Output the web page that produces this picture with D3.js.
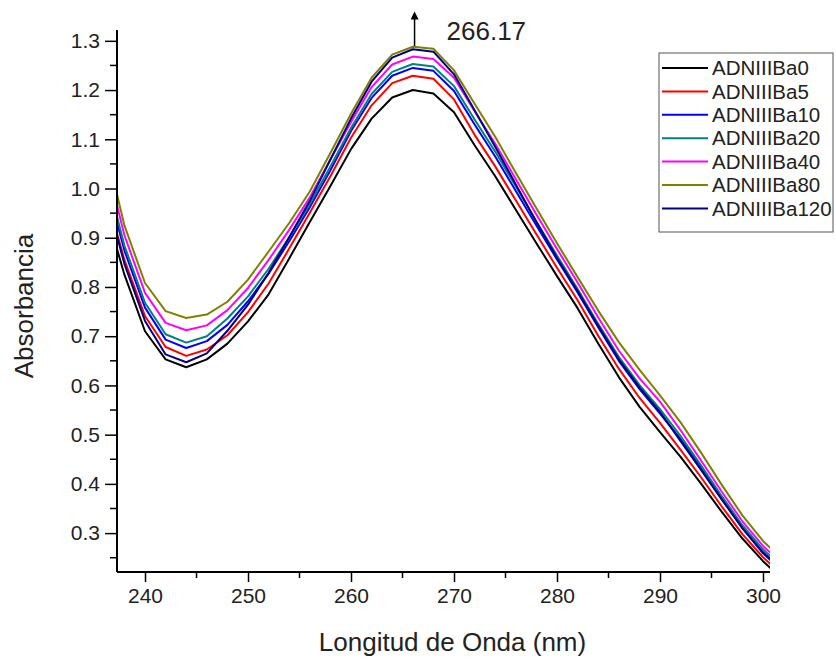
<!DOCTYPE html>
<html>
<head>
<meta charset="utf-8">
<script src="https://cdn.jsdelivr.net/npm/d3@7"></script>
<style>
  body { margin: 0; background: #fff; }
  svg { display: block; font-family: "Liberation Sans", Arial, sans-serif; }
</style>
</head>
<body>
<div id="chart"></div>
<script>
// wavelengths (nm), one sample every 2 nm
var wavelengths = [236, 238, 240, 242, 244, 246, 248, 250, 252, 254, 256, 258, 260, 262, 264, 266, 268,
  270, 272, 274, 276, 278, 280, 282, 284, 286, 288, 290, 292, 294, 296, 298, 300, 302];

var seriesNames = ["ADNIIIBa0", "ADNIIIBa5", "ADNIIIBa10", "ADNIIIBa20", "ADNIIIBa40", "ADNIIIBa80", "ADNIIIBa120"];
var seriesColors = ["#000000", "#ff0000", "#0000ff", "#008080", "#ff00ff", "#808000", "#000080"];

var ba0 = [0.970, 0.825, 0.710, 0.653, 0.637, 0.653, 0.685, 0.730, 0.785, 0.858, 0.932, 1.005, 1.080, 1.142, 1.185, 1.200, 1.193,
  1.155, 1.088, 1.025, 0.957, 0.889, 0.822, 0.757, 0.685, 0.617, 0.557, 0.505, 0.455, 0.400, 0.343, 0.289, 0.243, 0.205];
var ba5 = [1.005, 0.855, 0.741, 0.678, 0.660, 0.673, 0.702, 0.749, 0.807, 0.878, 0.951, 1.025, 1.103, 1.169, 1.214, 1.229, 1.223,
  1.181, 1.109, 1.045, 0.976, 0.907, 0.839, 0.773, 0.701, 0.634, 0.575, 0.524, 0.469, 0.413, 0.354, 0.298, 0.251, 0.213];
var ba10 = [1.034, 0.874, 0.758, 0.693, 0.676, 0.690, 0.723, 0.771, 0.827, 0.893, 0.962, 1.037, 1.117, 1.184, 1.229, 1.245, 1.239,
  1.198, 1.130, 1.065, 0.995, 0.925, 0.856, 0.789, 0.718, 0.650, 0.593, 0.543, 0.491, 0.432, 0.371, 0.310, 0.259, 0.221];
var ba20 = [1.047, 0.884, 0.768, 0.704, 0.687, 0.700, 0.736, 0.781, 0.837, 0.901, 0.969, 1.045, 1.123, 1.192, 1.237, 1.253, 1.248,
  1.208, 1.140, 1.075, 1.004, 0.933, 0.864, 0.796, 0.725, 0.658, 0.601, 0.552, 0.497, 0.437, 0.375, 0.316, 0.267, 0.228];
var ba40 = [1.074, 0.905, 0.788, 0.727, 0.712, 0.722, 0.753, 0.798, 0.855, 0.916, 0.982, 1.059, 1.135, 1.206, 1.252, 1.268, 1.263,
  1.225, 1.157, 1.091, 1.019, 0.947, 0.877, 0.809, 0.738, 0.671, 0.615, 0.567, 0.509, 0.447, 0.384, 0.324, 0.274, 0.235];
var ba80 = [1.100, 0.925, 0.808, 0.751, 0.737, 0.744, 0.770, 0.815, 0.872, 0.930, 0.994, 1.072, 1.152, 1.225, 1.272, 1.288, 1.284,
  1.240, 1.172, 1.105, 1.032, 0.960, 0.889, 0.820, 0.752, 0.688, 0.632, 0.580, 0.525, 0.463, 0.398, 0.336, 0.284, 0.245];
var ba120 = [1.003, 0.847, 0.731, 0.663, 0.647, 0.665, 0.711, 0.764, 0.829, 0.901, 0.975, 1.059, 1.142, 1.217, 1.266, 1.283, 1.278,
  1.232, 1.159, 1.085, 1.008, 0.932, 0.859, 0.792, 0.721, 0.653, 0.596, 0.546, 0.487, 0.428, 0.368, 0.310, 0.261, 0.223];

var seriesValues = [ba0, ba5, ba10, ba20, ba40, ba80, ba120];

var xTicks = [240, 250, 260, 270, 280, 290, 300];
var xMinor = [245, 255, 265, 275, 285, 295];
var yTicks = [0.3, 0.4, 0.5, 0.6, 0.7, 0.8, 0.9, 1.0, 1.1, 1.2, 1.3];
var yMinor = [0.25, 0.35, 0.45, 0.55, 0.65, 0.75, 0.85, 0.95, 1.05, 1.15, 1.25];

var peakLabel = 266.17;

var width = 836, height = 660;
var plotL = 117, plotR = 770, plotT = 30, plotB = 572;

var svg = d3.select("#chart").append("svg")
    .attr("width", width)
    .attr("height", height);

var x = d3.scaleLinear().domain([237.28, 300.68]).range([plotL, plotR]);
var y = d3.scaleLinear().domain([0.221, 1.322]).range([plotB, plotT]);

svg.append("clipPath").attr("id", "plot-clip")
  .append("rect")
    .attr("x", plotL).attr("y", plotT)
    .attr("width", plotR - plotL).attr("height", plotB - plotT);

// curves
var line = d3.line()
    .x(function(d) { return x(d[0]); })
    .y(function(d) { return y(d[1]); });

var curves = svg.append("g").attr("clip-path", "url(#plot-clip)");
seriesValues.forEach(function(vals, i) {
  var pts = wavelengths.map(function(w, j) { return [w, vals[j]]; });
  curves.append("path")
      .datum(pts)
      .attr("fill", "none")
      .attr("stroke", seriesColors[i])
      .attr("stroke-width", 2)
      .attr("stroke-linejoin", "round")
      .attr("d", line);
});

// axes
var xAxis = svg.append("g")
    .attr("transform", "translate(0," + plotB + ")")
    .call(d3.axisBottom(x).tickValues(xTicks).tickSize(10).tickPadding(6).tickFormat(d3.format("d")));
xAxis.append("g").selectAll("line").data(xMinor).enter().append("line")
    .attr("x1", function(d) { return x(d); }).attr("x2", function(d) { return x(d); })
    .attr("y1", 0).attr("y2", 6)
    .attr("stroke", "#000").attr("stroke-width", 1.5);

var yAxis = svg.append("g")
    .attr("transform", "translate(" + plotL + ",0)")
    .call(d3.axisLeft(y).tickValues(yTicks).tickSize(12).tickPadding(5).tickFormat(d3.format(".1f")));
yAxis.append("g").selectAll("line").data(yMinor).enter().append("line")
    .attr("y1", function(d) { return y(d); }).attr("y2", function(d) { return y(d); })
    .attr("x1", 0).attr("x2", -7)
    .attr("stroke", "#000").attr("stroke-width", 1.5);

[xAxis, yAxis].forEach(function(ax) {
  ax.select(".domain").attr("stroke", "#000").attr("stroke-width", 2);
  ax.selectAll(".tick line").attr("stroke", "#000").attr("stroke-width", 1.5);
  ax.selectAll(".tick text")
      .attr("fill", "#222")
      .style("font-size", "21px")
      .style("font-family", "'Liberation Sans', Arial, sans-serif");
});
// plain axis lines without end caps
xAxis.select(".domain").attr("d", "M" + plotL + ",0H" + plotR);
yAxis.select(".domain").attr("d", "M0," + plotT + "V" + plotB);

// axis titles
svg.append("text")
    .attr("x", (plotL + plotR) / 2 + 9)
    .attr("y", 651)
    .attr("text-anchor", "middle")
    .attr("fill", "#222")
    .style("font-size", "26px")
    .text("Longitud de Onda (nm)");

svg.append("text")
    .attr("transform", "translate(33,306) rotate(-90)")
    .attr("text-anchor", "middle")
    .attr("fill", "#222")
    .style("font-size", "26px")
    .text("Absorbancia");

// peak annotation
svg.append("defs").append("marker")
    .attr("id", "arrow")
    .attr("viewBox", "0 0 10 10")
    .attr("refX", 2).attr("refY", 5)
    .attr("markerUnits", "userSpaceOnUse")
    .attr("markerWidth", 12).attr("markerHeight", 8)
    .attr("orient", "auto")
  .append("path")
    .attr("d", "M0,0L10,5L0,10z")
    .attr("fill", "#000");

svg.append("line")
    .attr("x1", x(peakLabel)).attr("x2", x(peakLabel))
    .attr("y1", 46).attr("y2", 18)
    .attr("stroke", "#000").attr("stroke-width", 1.5)
    .attr("marker-end", "url(#arrow)");

svg.append("text")
    .attr("x", x(peakLabel) + 32)
    .attr("y", 40)
    .attr("fill", "#222")
    .style("font-size", "26px")
    .text(d3.format(".2f")(peakLabel));

// legend
var legend = svg.append("g").attr("transform", "translate(659,53)");
legend.append("rect")
    .attr("width", 174).attr("height", 179)
    .attr("fill", "#fff")
    .attr("stroke", "#555").attr("stroke-width", 1);

var items = legend.selectAll("g.item")
    .data(seriesNames)
    .enter().append("g")
    .attr("class", "item")
    .attr("transform", function(d, i) { return "translate(0," + (15 + i * 23.4) + ")"; });

items.append("line")
    .attr("x1", 3).attr("x2", 49)
    .attr("stroke", function(d, i) { return seriesColors[i]; })
    .attr("stroke-width", 2);

items.append("text")
    .attr("x", 53).attr("dy", "0.35em")
    .attr("fill", "#222")
    .style("font-size", "20.5px")
    .text(function(d) { return d; });
</script>
</body>
</html>
